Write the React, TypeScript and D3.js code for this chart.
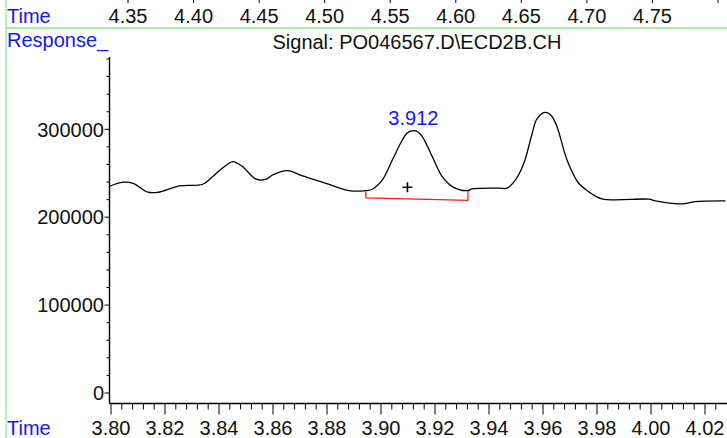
import React, { useEffect, useRef } from 'react';
import * as d3 from 'd3';

// signal trace
const times = [
  3.7992, 3.8045, 3.8082, 3.8137, 3.8174, 3.8254, 3.834, 3.8376, 3.8413, 3.8451,
  3.8469, 3.8488, 3.8538, 3.8575, 3.8599, 3.8654, 3.871, 3.8796, 3.8882, 3.8944,
  3.8968, 3.9005, 3.9042, 3.9079, 3.9097, 3.9119, 3.9137, 3.9153, 3.919, 3.9227,
  3.9264, 3.9319, 3.9338, 3.9437, 3.9467, 3.9498, 3.9529, 3.956, 3.9575, 3.9597,
  3.9615, 3.9632, 3.9652, 3.9689, 3.9732, 3.9769, 3.9818, 3.9993, 4.0016, 4.0114,
  4.0163, 4.0276,
];
const response = [
  234800, 239800, 238600, 228400, 228400, 235600, 237500, 246100, 256000, 263200,
  261100, 257500, 243200, 243200, 248100, 253000, 246900, 238600, 230200, 230200,
  231800, 242400, 265100, 287800, 295800, 298400, 297000, 291600, 268900, 246100,
  234800, 230200, 232200, 233000, 233000, 242400, 261400, 295500, 310600, 318200,
  318900, 315100, 303000, 265100, 238600, 229100, 220800, 220500, 218500, 215100,
  217700, 218500,
];

// integration baseline of the labelled peak
const baseTimes = [3.8944, 3.8944, 3.9322, 3.9322];
const baseValues = [229100, 221900, 219100, 230200];
const peakTime = 3.912;
const peakValue = 298400;
const peakLabel = '3.912';
const crossTime = 3.9098;
const crossValue = 234100;

const bottomMajor = [3.8, 3.82, 3.84, 3.86, 3.88, 3.9, 3.92, 3.94, 3.96, 3.98, 4.0, 4.02];
const yMajor = [0, 100000, 200000, 300000];
const topTicks = [4.35, 4.4, 4.45, 4.5, 4.55, 4.6, 4.65, 4.7, 4.75, 4.8];
const topLabels = ['4.35', '4.40', '4.45', '4.50', '4.55', '4.60', '4.65', '4.70', '4.75'];

const signalTitle = 'Signal: PO046567.D\\ECD2B.CH';

const App: React.FC = () => {
  const svgRef = useRef<SVGSVGElement>(null);

  useEffect(() => {
    if (!svgRef.current) return;
    const W = 727, H = 438;
    const font = '"Liberation Sans", Arial, sans-serif';
    const blue = '#1414ff';
    const green = '#a4f0a4';

    const svg = d3.select(svgRef.current).attr('width', W).attr('height', H).html('');

    const x = d3.scaleLinear().domain([3.8, 4.02]).range([111, 705]);
    const y = d3.scaleLinear().domain([0, 300000]).range([393, 129.3]);
    const xTop = d3.scaleLinear().domain([4.35, 4.8]).range([128, 718]);
    const axisX = 109.5, axisY = 403.5, axisTop = 57;

    // frame lines
    svg.append('line').attr('x1', 6).attr('x2', 6).attr('y1', 0).attr('y2', H)
      .attr('stroke', green).attr('stroke-width', 1.6);
    svg.append('line').attr('x1', 6).attr('x2', W).attr('y1', 28).attr('y2', 28)
      .attr('stroke', green).attr('stroke-width', 2);

    // top time axis (other window)
    svg.append('g').selectAll('line').data(topTicks).join('line')
      .attr('x1', d => xTop(d)).attr('x2', d => xTop(d)).attr('y1', 0).attr('y2', 3)
      .attr('stroke', '#000').attr('stroke-width', 1);
    svg.append('g').selectAll('text').data(topLabels).join('text')
      .attr('x', d => xTop(+d)).attr('y', 22.5).attr('text-anchor', 'middle')
      .attr('font-family', font).attr('font-size', 20).attr('fill', '#111').text(d => d);

    svg.append('text').attr('x', 7).attr('y', 22.5).attr('font-family', font)
      .attr('font-size', 20).attr('fill', blue).text('Time');
    svg.append('text').attr('x', 7).attr('y', 47).attr('font-family', font)
      .attr('font-size', 20).attr('fill', blue).text('Response_');
    svg.append('text').attr('x', 417).attr('y', 49).attr('text-anchor', 'middle')
      .attr('font-family', font).attr('font-size', 20).attr('fill', '#111').text(signalTitle);

    // y axis
    svg.append('line').attr('x1', axisX).attr('x2', axisX).attr('y1', axisTop).attr('y2', axisY)
      .attr('stroke', '#000').attr('stroke-width', 1.4);
    const yMinor = d3.range(0, 380001, 20000);
    svg.append('g').selectAll('line').data(yMinor).join('line')
      .attr('x1', d => axisX - (d % 100000 === 0 ? 5 : 3)).attr('x2', axisX)
      .attr('y1', d => y(d)).attr('y2', d => y(d))
      .attr('stroke', '#000').attr('stroke-width', 1);
    svg.append('g').selectAll('text').data(yMajor).join('text')
      .attr('x', 104).attr('y', d => y(d)).attr('dy', '0.36em').attr('text-anchor', 'end')
      .attr('font-family', font).attr('font-size', 20).attr('fill', '#111').text(d => String(d));

    // x axis
    svg.append('line').attr('x1', axisX).attr('x2', W).attr('y1', axisY).attr('y2', axisY)
      .attr('stroke', '#000').attr('stroke-width', 1.4);
    const xMinor = d3.range(0, 57).map(i => 3.8 + i * 0.004);
    svg.append('g').selectAll('line').data(xMinor).join('line')
      .attr('x1', d => x(d)).attr('x2', d => x(d)).attr('y1', axisY)
      .attr('y2', (d, i) => axisY + (i % 5 === 0 ? 11 : 6))
      .attr('stroke', '#000').attr('stroke-width', 1);
    svg.append('g').selectAll('text').data(bottomMajor).join('text')
      .attr('x', d => x(d)).attr('y', 435).attr('text-anchor', 'middle')
      .attr('font-family', font).attr('font-size', 20).attr('fill', '#111').text(d => d.toFixed(2));
    svg.append('text').attr('x', 7).attr('y', 435).attr('font-family', font)
      .attr('font-size', 20).attr('fill', blue).text('Time');

    // trace
    const pts = times.map((t, i) => [t, response[i]] as [number, number]);
    const line = d3.line<[number, number]>().x(d => x(d[0])).y(d => y(d[1])).curve(d3.curveCatmullRom);
    svg.append('path').datum(pts).attr('fill', 'none').attr('stroke', '#000')
      .attr('stroke-width', 1.3).attr('d', line);

    // baseline
    const base = baseTimes.map((t, i) => [t, baseValues[i]] as [number, number]);
    svg.append('path').datum(base).attr('fill', 'none').attr('stroke', '#ff1a1a')
      .attr('stroke-width', 1.3).attr('d', d3.line<[number, number]>().x(d => x(d[0])).y(d => y(d[1])));

    // cross marker and peak label
    const cx = x(crossTime), cy = y(crossValue);
    svg.append('path').attr('d', `M${cx - 5},${cy}H${cx + 5}M${cx},${cy - 5}V${cy + 5}`)
      .attr('stroke', '#000').attr('stroke-width', 1.6);
    svg.append('text').attr('x', x(peakTime)).attr('y', y(peakValue) - 6).attr('text-anchor', 'middle')
      .attr('font-family', font).attr('font-size', 20).attr('fill', blue).text(peakLabel);
  }, []);

  return (
    <div style={{ position: 'absolute', left: 0, top: 0, background: '#fff' }}>
      <svg ref={svgRef}></svg>
    </div>
  );
};

export default App;
